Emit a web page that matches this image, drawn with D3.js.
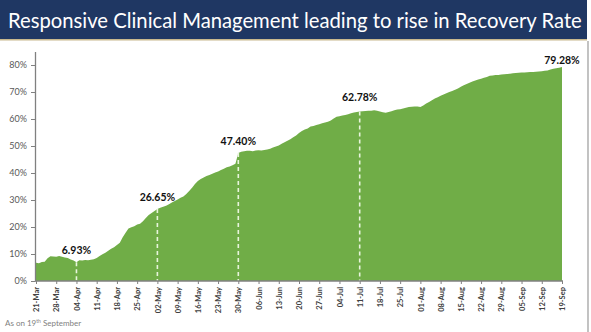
<!DOCTYPE html>
<html>
<head>
<meta charset="utf-8">
<script src="https://cdn.jsdelivr.net/npm/d3@7"></script>
<style>
  body { margin: 0; background: #ffffff; }
  svg { display: block; }
</style>
</head>
<body>
<svg id="chart" width="591" height="332"></svg>
<script>
// Daily recovery rate (%), 21 March to 19 September 2020
const firstDay = "2020-03-21";
const recoveryRate = [
  6.8, 6.6, 7.0, 7.1, 8.4, 9.2, 9.1,          // 21-Mar
  9.0, 9.3, 9.0, 8.7, 8.5, 8.0, 7.6,          // 28-Mar
  6.93, 7.7, 7.6, 7.8, 7.7, 7.9, 8.1,         // 04-Apr
  8.5, 9.3, 9.9, 10.5, 11.2, 11.9, 12.5,      // 11-Apr
  13.3, 14.2, 16.2, 17.9, 19.4, 19.9, 20.3,   // 18-Apr
  20.9, 21.2, 22.1, 23.3, 24.4, 25.2, 25.9,   // 25-Apr
  26.65, 27.1, 27.5, 27.9, 28.4, 29.1, 29.6,  // 02-May
  30.2, 30.8, 31.3, 32.2, 33.3, 34.5, 35.9,   // 09-May
  37.0, 37.8, 38.3, 38.9, 39.3, 39.7, 40.2,   // 16-May
  40.6, 41.1, 41.6, 42.1, 42.4, 42.9, 43.4,   // 23-May
  47.40, 47.9, 48.1, 48.2, 48.2, 48.1, 48.3,  // 30-May
  48.4, 48.3, 48.5, 48.7, 49.0, 49.4, 49.8,   // 06-Jun
  50.2, 50.8, 51.4, 51.9, 52.5, 53.2, 53.9,   // 13-Jun
  54.8, 55.6, 56.1, 56.5, 57.2, 57.4, 57.8,   // 20-Jun
  58.1, 58.4, 58.7, 59.0, 59.4, 60.2, 60.8,   // 27-Jun
  61.0, 61.3, 61.5, 61.8, 62.1, 62.4, 62.6,   // 04-Jul
  62.78, 62.9, 63.0, 63.1, 63.1, 63.2, 63.1,  // 11-Jul
  62.8, 62.5, 62.3, 62.6, 62.9, 63.2, 63.5,   // 18-Jul
  63.6, 63.9, 64.2, 64.4, 64.5, 64.6, 64.6,   // 25-Jul
  64.4, 65.0, 65.7, 66.3, 66.9, 67.6, 68.1,   // 01-Aug
  68.6, 69.1, 69.5, 70.0, 70.4, 70.8, 71.3,   // 08-Aug
  71.9, 72.5, 73.0, 73.4, 73.9, 74.3, 74.6,   // 15-Aug
  74.9, 75.3, 75.6, 76.0, 76.1, 76.3, 76.3,   // 22-Aug
  76.5, 76.6, 76.7, 76.8, 76.9, 77.0, 77.1,   // 29-Aug
  77.2, 77.2, 77.3, 77.4, 77.4, 77.5, 77.6,   // 05-Sep
  77.7, 77.9, 78.0, 78.3, 78.6, 78.8, 79.0,   // 12-Sep
  79.28                                       // 19-Sep
];

// Milestones marked with a dashed drop line and a value label
const milestoneDates  = ["2020-04-04", "2020-05-02", "2020-05-30", "2020-07-11", "2020-09-19"];
const milestoneValues = [6.93, 26.65, 47.40, 62.78, 79.28];
const milestoneLabels = ["6.93%", "26.65%", "47.40%", "62.78%", "79.28%"];

const yTickValues = [0, 10, 20, 30, 40, 50, 60, 70, 80];
const yMax = 85;
const titleText = "Responsive Clinical Management leading to rise in Recovery Rate";

// ---- layout ----
const W = 591, H = 332;
const plot = { left: 35, right: 562, top: 51.5, bottom: 281 };
const labelLift = [8, 8, 8, 10, 3];
const fontStack = "Lato, 'Open Sans', sans-serif";

const parse = d3.utcParse("%Y-%m-%d");
const fmt = d3.utcFormat("%d-%b");
const start = parse(firstDay);
const series = recoveryRate.map((v, i) => ({ date: d3.utcDay.offset(start, i), value: v }));
const end = series[series.length - 1].date;

const svg = d3.select("#chart");

// Title bar
svg.append("rect").attr("x", 0).attr("y", 0).attr("width", 587).attr("height", 39)
  .attr("fill", "#1f3763");
svg.append("rect").attr("x", 0).attr("y", 39).attr("width", 587).attr("height", 1.5)
  .attr("fill", "#c8b88e");
const title = svg.append("text")
  .attr("x", 8).attr("y", 27.5)
  .attr("fill", "#ffffff")
  .style("font-family", fontStack)
  .style("font-size", "21px")
  .text(titleText);
const tw = title.node().getComputedTextLength();
title.style("font-size", (21 * 574 / tw).toFixed(2) + "px");

// Slide edge on the right
svg.append("line").attr("x1", 588).attr("x2", 588).attr("y1", 41).attr("y2", H)
  .attr("stroke", "#9a9a9a").attr("stroke-width", 1.2);

// Scales
const x = d3.scaleUtc().domain([start, end]).range([plot.left + 1, plot.right]);
const y = d3.scaleLinear().domain([0, yMax]).range([plot.bottom, plot.top]);

// Filled area of the daily series
const area = d3.area()
  .x(d => x(d.date))
  .y0(y(0))
  .y1(d => y(d.value))
  .curve(d3.curveLinear);
svg.append("path")
  .datum(series)
  .attr("d", area)
  .attr("fill", "#70ad47");

// Milestone drop lines and labels
milestoneDates.forEach((ds, i) => {
  const mx = x(parse(ds));
  const my = y(milestoneValues[i]);
  if (i < milestoneDates.length - 1) {
    svg.append("line")
      .attr("x1", mx).attr("x2", mx)
      .attr("y1", my).attr("y2", y(0))
      .attr("stroke", "#e8f5dc")
      .attr("stroke-width", 1.6)
      .attr("stroke-dasharray", "4,3");
  }
  svg.append("text")
    .attr("x", mx).attr("y", my - labelLift[i])
    .attr("text-anchor", "middle")
    .attr("fill", "#111111")
    .style("font-family", fontStack)
    .style("font-weight", "700")
    .style("font-size", "10.5px")
    .text(milestoneLabels[i]);
});

// Y axis
const yAxis = d3.axisLeft(y)
  .tickValues(yTickValues)
  .tickFormat(d => d + "%")
  .tickSizeInner(4).tickSizeOuter(0).tickPadding(4);
const gy = svg.append("g").attr("transform", `translate(${plot.left},0)`).call(yAxis);
gy.select(".domain").attr("stroke", "#808080").attr("stroke-width", 1.3);
gy.selectAll(".tick line").attr("stroke", "#808080");
gy.selectAll(".tick text")
  .attr("fill", "#595959")
  .style("font-family", fontStack)
  .style("font-size", "9px");

// X axis: weekly ticks
const weekTicks = d3.range(0, recoveryRate.length, 7).map(i => d3.utcDay.offset(start, i));
const xAxis = d3.axisBottom(x)
  .tickValues(weekTicks)
  .tickFormat(fmt)
  .tickSizeInner(3).tickSizeOuter(0).tickPadding(3);
const gx = svg.append("g").attr("transform", `translate(0,${plot.bottom})`).call(xAxis);
gx.select(".domain").attr("stroke", "#808080").attr("stroke-width", 1.3)
  .attr("d", `M${plot.left},0H${plot.right + 1}`);
gx.selectAll(".tick line").attr("stroke", "#808080");
gx.selectAll(".tick text")
  .attr("fill", "#404040")
  .style("font-family", fontStack)
  .style("font-size", "7.5px")
  .style("font-weight", "700")
  .attr("text-anchor", "end")
  .attr("transform", "rotate(-90)")
  .attr("x", -6).attr("y", 0).attr("dy", "0.35em");

// Footnote
const note = svg.append("text")
  .attr("x", 5).attr("y", 326)
  .attr("fill", "#7f7f7f")
  .style("font-family", fontStack)
  .style("font-size", "8px");
note.append("tspan").text("As on 19");
note.append("tspan").attr("dy", -3).style("font-size", "5px").text("th");
note.append("tspan").attr("dy", 3).text(" September");
</script>
</body>
</html>
